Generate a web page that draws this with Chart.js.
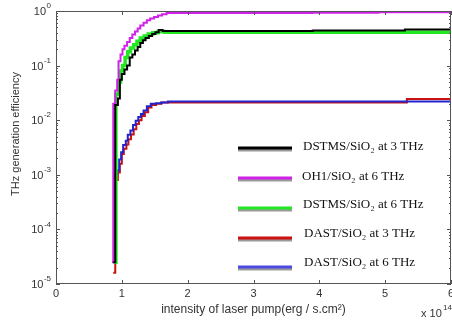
<!DOCTYPE html>
<html>
<head>
<meta charset="utf-8">
<script src="https://cdn.jsdelivr.net/npm/chart.js@4/dist/chart.umd.min.js"></script>
<style>
  html, body { margin: 0; padding: 0; background: #fff; }
  #wrap { width: 452px; height: 322px; position: relative; }
</style>
</head>
<body>
<div id="wrap"><canvas id="c"></canvas></div>
<script>
// intensity in units of 1e14 erg/(s.cm^2), efficiency on log scale
const ohX = [0.85, 0.87, 0.9, 0.93, 0.95, 0.98, 1.01, 1.04, 1.08, 1.12, 1.16, 1.2, 1.24, 1.28, 1.33, 1.38, 1.43, 1.49, 1.55, 1.61, 1.68, 3.9, 4.9, 6];
const ohY = [2.5e-5, 0.02, 0.035, 0.055, 0.12, 0.16, 0.2, 0.23, 0.27, 0.32, 0.37, 0.42, 0.48, 0.54, 0.61, 0.68, 0.73, 0.78, 0.83, 0.87, 0.92, 0.93, 0.95, 0.95];

const dstms3X = [0.87, 0.9, 0.94, 0.97, 1.0, 1.04, 1.08, 1.12, 1.16, 1.2, 1.24, 1.28, 1.32, 1.36, 1.41, 1.46, 1.51, 1.56, 1.62, 3.9, 5.3, 6];
const dstms3Y = [2.5e-5, 0.019, 0.025, 0.055, 0.07, 0.085, 0.1, 0.14, 0.16, 0.19, 0.22, 0.26, 0.29, 0.32, 0.35, 0.38, 0.41, 0.45, 0.43, 0.44, 0.46, 0.46];

const dstms6X = [0.88, 0.91, 0.95, 0.98, 1.01, 1.05, 1.09, 1.13, 1.18, 1.23, 1.28, 1.34, 1.4, 1.47, 1.55, 1.65, 6];
const dstms6Y = [2.5e-5, 0.03, 0.05, 0.08, 0.1, 0.14, 0.18, 0.21, 0.24, 0.28, 0.32, 0.35, 0.38, 0.4, 0.42, 0.41, 0.41];

const dast3X = [0.87, 0.9, 0.94, 0.97, 1.0, 1.03, 1.07, 1.1, 1.14, 1.18, 1.22, 1.26, 1.3, 1.35, 1.4, 1.45, 1.52, 1.6, 5.33, 6];
const dast3Y = [1.6e-5, 0.0008, 0.0011, 0.0016, 0.0024, 0.003, 0.0036, 0.0045, 0.0055, 0.0068, 0.0085, 0.01, 0.012, 0.014, 0.017, 0.019, 0.02, 0.021, 0.0245, 0.0245];

const dast6X = [0.87, 0.9, 0.93, 0.96, 0.99, 1.02, 1.06, 1.09, 1.13, 1.17, 1.21, 1.25, 1.29, 1.33, 1.38, 1.44, 1.52, 1.6, 1.7, 6];
const dast6Y = [2.5e-5, 0.001, 0.0012, 0.0019, 0.0026, 0.0035, 0.0042, 0.0054, 0.0065, 0.0082, 0.0098, 0.0115, 0.013, 0.015, 0.018, 0.02, 0.0205, 0.021, 0.022, 0.022];

const legendLabels = ['DSTMS/SiO\u2082 at 3 THz', 'OH1/SiO\u2082 at 6 THz', 'DSTMS/SiO\u2082 at 6 THz', 'DAST/SiO\u2082 at 3 THz', 'DAST/SiO\u2082 at 6 THz'];
const legendColors = ['#000000', '#d022e8', '#22e822', '#cc1111', '#4a4ae0'];
const xTicks = [0, 1, 2, 3, 4, 5, 6];
const yDecades = [-5, -4, -3, -2, -1, 0];

const pts = (xs, ys) => xs.map((x, i) => ({ x, y: ys[i] }));

function series(label, xs, ys, color, width, order) {
  return {
    label, data: pts(xs, ys), borderColor: color, backgroundColor: color,
    borderWidth: width, pointRadius: 0, stepped: 'before', fill: false, order,
  };
}

const txt = '#333';
const sans = '"Liberation Sans", Arial, sans-serif';

const decor = {
  id: 'decor',
  afterDatasetsDraw(chart) {
    const { ctx, chartArea: a, scales: { x, y } } = chart;
    ctx.save();
    ctx.strokeStyle = '#555';
    ctx.lineWidth = 1;
    ctx.strokeRect(a.left + 0.5, a.top + 0.5, a.right - a.left - 1, a.bottom - a.top - 1);

    // inward ticks
    ctx.beginPath();
    for (const t of xTicks) {
      const px = Math.round(x.getPixelForValue(t)) + 0.5;
      ctx.moveTo(px, a.bottom); ctx.lineTo(px, a.bottom - 4);
      ctx.moveTo(px, a.top); ctx.lineTo(px, a.top + 4);
    }
    for (const d of yDecades) {
      for (let m = 1; m <= 9; m++) {
        if (d === 0 && m > 1) break;
        const py = Math.round(y.getPixelForValue(m * Math.pow(10, d))) + 0.5;
        const len = m === 1 ? 4 : 2;
        ctx.moveTo(a.left, py); ctx.lineTo(a.left + len, py);
        ctx.moveTo(a.right, py); ctx.lineTo(a.right - len, py);
      }
    }
    ctx.stroke();

    ctx.fillStyle = txt;
    ctx.textBaseline = 'middle';

    // x tick labels
    ctx.font = '11px ' + sans;
    ctx.textAlign = 'center';
    for (const t of xTicks) ctx.fillText(String(t), x.getPixelForValue(t), a.bottom + 10);

    // y tick labels 10^k
    for (const d of yDecades) {
      const py = y.getPixelForValue(Math.pow(10, d));
      const sup = d === 0 ? '0' : '-' + (-d);
      ctx.font = '8px ' + sans;
      const sw = ctx.measureText(sup).width;
      ctx.textAlign = 'left';
      const right = 51;
      ctx.fillText(sup, right - sw, py - 5);
      ctx.font = '11px ' + sans;
      ctx.textAlign = 'right';
      ctx.fillText('10', right - sw - 0.5, py + 1);
    }

    // y title
    ctx.save();
    ctx.translate(16, 134);
    ctx.rotate(-Math.PI / 2);
    ctx.textAlign = 'center';
    ctx.font = '11px ' + sans;
    ctx.fillText('THz generation efficiency', 0, 0);
    ctx.restore();

    // x multiplier
    ctx.textAlign = 'left';
    ctx.font = '11px ' + sans;
    ctx.fillText('x 10', 421, 314);
    ctx.font = '8px ' + sans;
    ctx.fillText('14', 443, 308);

    // legend
    const ly = [148, 178, 208, 238, 267];
    const ty = [147, 177, 205, 234, 263];
    const tx = [303, 302, 303, 304, 304];
    ctx.font = '13px "Liberation Serif", "Times New Roman", serif';
    ctx.textAlign = 'left';
    legendLabels.forEach((lab, i) => {
      ctx.lineWidth = 3;
      ctx.strokeStyle = '#9a9a9a';
      ctx.beginPath(); ctx.moveTo(238, ly[i] + 2); ctx.lineTo(292, ly[i] + 2); ctx.stroke();
      ctx.strokeStyle = legendColors[i];
      ctx.beginPath(); ctx.moveTo(238, ly[i]); ctx.lineTo(292, ly[i]); ctx.stroke();
      ctx.fillStyle = '#111';
      ctx.fillText(lab, tx[i], ty[i]);
    });
    ctx.restore();
  },
};

new Chart(document.getElementById('c'), {
  type: 'line',
  data: {
    datasets: [
      series(legendLabels[0], dstms3X, dstms3Y, legendColors[0], 2, 1),
      series(legendLabels[1], ohX, ohY, legendColors[1], 2, 2),
      series(legendLabels[2], dstms6X, dstms6Y, legendColors[2], 3.5, 3),
      series(legendLabels[3], dast3X, dast3Y, legendColors[3], 2, 5),
      series(legendLabels[4], dast6X, dast6Y, '#2424cc', 2, 4),
    ],
  },
  options: {
    responsive: true,
    maintainAspectRatio: false,
    animation: false,
    layout: { padding: { top: 11, right: 1, left: 0, bottom: 0 } },
    plugins: { legend: { display: false }, tooltip: { enabled: false } },
    scales: {
      x: {
        type: 'linear', min: 0, max: 6,
        grid: { display: false, drawTicks: false },
        border: { display: false },
        ticks: { display: false, stepSize: 1 },
        title: {
          display: true, text: 'intensity of laser pump(erg / s.cm\u00b2)', color: txt,
          font: { size: 12, family: sans }, padding: { top: 0, bottom: 5 },
        },
        afterFit(s) { s.height = 38; },
      },
      y: {
        type: 'logarithmic', min: 1e-5, max: 1,
        grid: { display: false, drawTicks: false },
        border: { display: false },
        ticks: { display: false },
        afterFit(s) { s.width = 56; },
      },
    },
  },
  plugins: [decor],
});
</script>
</body>
</html>
